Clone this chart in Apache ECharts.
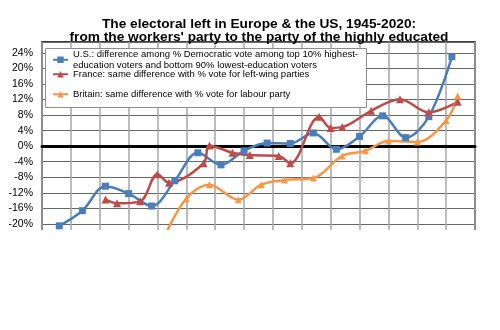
<!DOCTYPE html>
<html>
<head>
<meta charset="utf-8">
<script src="https://cdn.jsdelivr.net/npm/echarts@6/dist/echarts.min.js"></script>
<style>
  html, body { margin: 0; padding: 0; background: #fff; }
  #clip { width: 500px; height: 230px; overflow: hidden; }
  #chart { width: 500px; height: 330px; }
</style>
</head>
<body>
<div id="clip"><div id="chart"></div></div>
<script>
  // election years and left-vote gap (percentage points)
  var usYears = [1948, 1952, 1956, 1960, 1964, 1968, 1972, 1976, 1980, 1984, 1988, 1992, 1996, 2000, 2004, 2008, 2012, 2016];
  var usValues = [-20.5, -16.6, -10.3, -12.2, -15.4, -8.9, -1.7, -4.8, -1.2, 0.8, 0.7, 3.4, -0.8, 2.5, 7.8, 2.2, 7.6, 23.0];

  var franceYears = [1956, 1958, 1962, 1965, 1967, 1973, 1974, 1978, 1981, 1986, 1988, 1993, 1995, 1997, 2002, 2007, 2012, 2017];
  var franceValues = [-13.7, -14.7, -14.2, -7.2, -9.4, -4.4, 0.2, -1.7, -2.3, -2.5, -4.4, 7.6, 4.7, 4.9, 9.1, 12.1, 8.7, 11.4];

  var britainYears = [1966, 1970, 1974, 1979, 1983, 1987, 1992, 1997, 2001, 2005, 2010, 2015, 2017];
  var britainValues = [-24, -13.5, -9.9, -13.8, -9.9, -8.7, -8.2, -2.5, -1.2, 1.3, 1.1, 6.6, 12.9];

  var usName = 'U.S.: difference among % Democratic vote among top 10% highest-\neducation voters and bottom 90% lowest-education voters';
  var frName = 'France: same difference with % vote for left-wing parties';
  var gbName = 'Britain: same difference with % vote for labour party';

  function pairs(xs, ys) {
    return xs.map(function (x, i) { return [x, ys[i]]; });
  }

  var font = '"Liberation Sans", Arial, sans-serif';

  function makeLegend(name, top) {
    return {
      data: [name],
      left: 52,
      top: top,
      padding: 0,
      itemWidth: 15,
      itemHeight: 8,
      itemGap: 0,
      textStyle: { fontFamily: font, fontSize: 9.5, color: '#000', lineHeight: 10.5 }
    };
  }

  var usLegend = makeLegend(usName, 44);
  usLegend.textStyle.padding = [10.5, 0, 0, 0];

  var myChart = echarts.init(document.getElementById('chart'));
  var option = {
    animation: false,
    title: {
      text: 'The electoral left in Europe & the US, 1945-2020:\nfrom the workers\' party to the party of the highly educated',
      left: 259,
      textAlign: 'center',
      top: 17,
      padding: 0,
      textStyle: { fontFamily: font, fontSize: 13.7, fontWeight: 'bold', color: '#000', lineHeight: 13.5 }
    },
    grid: {
      left: 42, right: 25, top: 42, bottom: 75,
      show: true, borderColor: '#000', borderWidth: 1.5, backgroundColor: '#fff'
    },
    legend: [
      usLegend,
      makeLegend(frName, 69),
      makeLegend(gbName, 89)
    ],
    graphic: [{
      type: 'rect',
      z: 1,
      shape: { x: 45.5, y: 48.5, width: 321, height: 59 },
      style: { fill: '#fff', stroke: '#8c8c8c', lineWidth: 1 }
    }],
    xAxis: {
      type: 'value',
      min: 1945, max: 2020, interval: 5,
      axisLine: { onZero: true, lineStyle: { color: '#000', width: 3 } },
      axisTick: { show: false },
      axisLabel: { show: false },
      splitLine: { lineStyle: { color: '#a6a6a6', width: 1.5 } }
    },
    yAxis: {
      type: 'value',
      min: -28, max: 26.8, interval: 4,
      axisLine: { show: false },
      axisTick: { show: false },
      axisLabel: {
        fontFamily: font, fontSize: 10.5, color: '#000', margin: 9,
        formatter: function (v) { return v % 4 === 0 ? v + '%' : ''; }
      },
      splitLine: { lineStyle: { color: '#666', width: 1 } }
    },
    series: [{
      name: usName,
      type: 'line',
      data: pairs(usYears, usValues),
      smooth: 0.35,
      symbol: 'rect', symbolSize: 7,
      color: '#4a7ebb',
      lineStyle: { width: 2.5 }
    }, {
      name: frName,
      type: 'line',
      data: pairs(franceYears, franceValues),
      smooth: 0.35,
      symbol: 'triangle', symbolSize: 8,
      color: '#be4b48',
      lineStyle: { width: 2.5 }
    }, {
      name: gbName,
      type: 'line',
      data: pairs(britainYears, britainValues),
      smooth: 0.35,
      symbol: 'triangle', symbolSize: 7,
      color: '#f79646',
      lineStyle: { width: 2.5 }
    }]
  };
  myChart.setOption(option);
</script>
</body>
</html>
